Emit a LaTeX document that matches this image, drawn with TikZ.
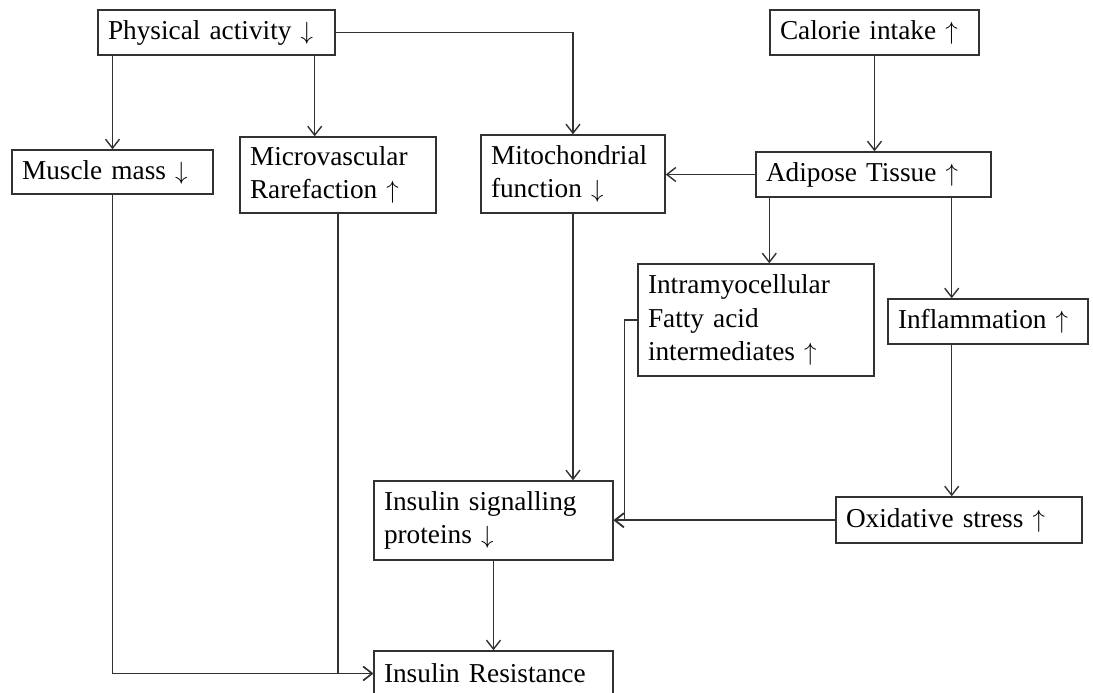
\documentclass[tikz,border=0pt]{standalone}
\usepackage{fontspec}
\setmainfont{Liberation Serif}
\usepackage{tikz}
\usetikzlibrary{arrows.meta,positioning,calc}
\definecolor{lineK}{RGB}{50,50,50}
\newcommand{\dn}{\ $\downarrow$}
\newcommand{\upp}{\ $\uparrow$}

\begin{document}
\begin{tikzpicture}[
  x=1pt, y=-1pt,
  box/.style={draw=lineK, line width=1.4pt, align=left, inner xsep=10pt, inner ysep=0pt, font=\fontsize{27.3}{33.5}\selectfont},
  one/.style={box, minimum height=45pt},
  two/.style={box, minimum height=78pt},
  arr/.style={draw=lineK, line width=1.4pt, -{Straight Barb[length=9pt,width=14pt]}}
]
\useasboundingbox (0,0) rectangle (1093,693);

% top row
\node[one, text width=217pt] (pa) at (216.5,32.5) {Physical activity\dn};
\node[one, text width=189pt] (cal) at (874.5,32.5) {Calorie intake\upp};

% second row
\node[one, text width=181pt, minimum height=44pt] (mus) at (112.5,172) {Muscle mass\dn};
\node[two, text width=176pt, minimum height=76pt] (mic) at (338,175) {Microvascular\\Rarefaction\upp};
\node[two, text width=164pt] (mit) at (573,174) {Mitochondrial\\function\dn};
\node[one, text width=215pt] (adi) at (873.5,174.5) {Adipose Tissue\upp};

% middle
\node[box, text width=216pt, minimum height=112pt] (imf) at (756,320) {Intramyocellular\\Fatty acid\\intermediates\upp};
\node[one, text width=180pt] (inf) at (988,321.5) {Inflammation\upp};

% bottom
\node[two, text width=219pt, minimum height=79pt] (isp) at (493.5,520.5) {Insulin signalling\\proteins\dn};
\node[one, text width=226pt, minimum height=46pt] (oxs) at (959,520) {Oxidative stress\upp};
\node[one, text width=219pt] (ir) at (493.5,673.5) {Insulin Resistance};

% connectors
\coordinate (pamic) at ([xshift=-21pt]pa.south east);
\coordinate (adimf) at ([xshift=14pt]adi.south west);
\coordinate (adinf) at ([xshift=-40pt]adi.south east);

\draw[arr] (mus.north |- pa.south) -- (mus.north);
\draw[arr] (pamic) -- (pamic |- mic.north);
\draw[arr] (pa.east) -| (mit.north);
\draw[arr] (cal.south) -- (cal.south |- adi.north);
\draw[arr] (adi.west) -- (adi.west -| mit.east);
\draw[arr] (adimf) -- (adimf |- imf.north);
\draw[arr] (adinf) -- (adinf |- inf.north);
\draw[arr] (adinf |- inf.south) -- (adinf |- oxs.north);
\draw[arr] (mit.south) -- (mit.south |- isp.north);
\draw[arr] (imf.west) -- ++(-13,0) |- (isp.east);
\draw[arr] (oxs.west) -- (oxs.west -| isp.east);
\draw[arr] (isp.south) -- (ir.north);
\draw[arr] (mus.south) |- (ir.west);
\draw[arr] (mic.south) |- (ir.west);

\end{tikzpicture}
\end{document}
